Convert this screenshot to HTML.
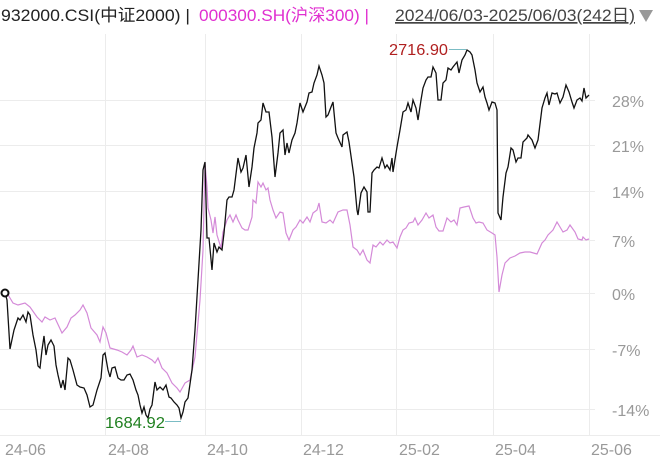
<!DOCTYPE html>
<html><head><meta charset="utf-8"><style>
body{margin:0;background:#fff;width:660px;height:459px;overflow:hidden;font-family:"Liberation Sans","Noto Sans CJK SC",sans-serif}
</style></head><body>
<svg width="660" height="459" xmlns="http://www.w3.org/2000/svg" font-family="Liberation Sans, Noto Sans CJK SC, sans-serif">
<g stroke="#ececec" stroke-width="1">
<line x1="0" y1="100.5" x2="595" y2="100.5"/>
<line x1="0" y1="145.5" x2="595" y2="145.5"/>
<line x1="0" y1="191.5" x2="595" y2="191.5"/>
<line x1="0" y1="240.5" x2="595" y2="240.5"/>
<line x1="0" y1="293.5" x2="595" y2="293.5"/>
<line x1="0" y1="349.5" x2="595" y2="349.5"/>
<line x1="0" y1="409.5" x2="595" y2="409.5"/>
<line x1="0" y1="435.5" x2="660" y2="435.5"/>
<line x1="105.5" y1="34" x2="105.5" y2="435"/>
<line x1="205.5" y1="34" x2="205.5" y2="435"/>
<line x1="301.5" y1="34" x2="301.5" y2="435"/>
<line x1="396.5" y1="34" x2="396.5" y2="435"/>
<line x1="493.5" y1="34" x2="493.5" y2="435"/>
<line x1="589.5" y1="34" x2="589.5" y2="435"/>
</g>
<text x="1" y="21" font-size="17" fill="#222" textLength="189" lengthAdjust="spacingAndGlyphs">932000.CSI(中证2000) |</text>
<text x="199" y="21" font-size="17" fill="#e030d0" textLength="170" lengthAdjust="spacingAndGlyphs">000300.SH(沪深300) |</text>
<text x="395" y="21" font-size="17" fill="#444" text-decoration="underline" textLength="240" lengthAdjust="spacingAndGlyphs">2024/06/03-2025/06/03(242日)</text>
<polygon points="639,10 653,10 646,22" fill="#999"/>
<g font-size="16" fill="#999">
<text x="612" y="107">28%</text><text x="612" y="152">21%</text><text x="612" y="198">14%</text>
<text x="612" y="247">7%</text><text x="612" y="300">0%</text><text x="612" y="356">-7%</text><text x="612" y="416">-14%</text>
<text x="5" y="455">24-06</text><text x="108" y="455">24-08</text><text x="207" y="455">24-10</text>
<text x="303" y="455">24-12</text><text x="399" y="455">25-02</text><text x="495" y="455">25-04</text><text x="591" y="455">25-06</text>
</g>
<polyline fill="none" stroke="#d48ad8" stroke-width="1.2" points="7,293 13,303 18,305 25,303 30,307 37,317 42,322 45,317 50,320 55,318 62,333 67,327 71,318 75,315 80,310 83,305 87,313 91,328 97,335 100,342 103,327 106,333 110,348 117,350 122,352 127,355 131,350 133,346 137,357 142,355 147,357 152,360 155,363 158,358 162,368 167,373 172,383 177,388 180,392 185,383 190,380 195,357 200,300 203,250 205,163 207,187 208,208 211,220 213,233 215,217 217,235 221,248 223,232 227,220 230,215 233,222 236,215 238,220 242,228 245,230 248,230 252,217 253,200 256,203 258,182 261,187 263,183 266,190 268,188 270,200 273,210 276,218 280,212 283,213 286,233 289,240 293,230 296,227 300,220 303,223 307,217 310,222 313,213 317,210 319,203 322,222 326,223 330,220 333,223 338,212 343,210 347,210 350,225 353,247 357,250 360,255 363,250 367,260 370,263 373,245 376,247 380,242 383,245 387,240 390,243 393,242 397,248 400,237 403,230 406,228 409,223 413,222 415,218 418,225 422,220 426,213 429,218 433,215 436,227 439,231 443,231 447,218 451,222 454,220 457,225 460,208 464,207 469,206 473,218 476,223 479,222 483,223 487,230 492,233 495,235 497,257 499,292 502,275 505,263 510,258 515,256 520,253 525,252 530,252 537,254 542,243 545,240 548,235 553,230 557,222 560,227 563,232 567,230 570,225 575,232 578,239 582,240 583,237 586,240 589,239"/>
<polyline fill="none" stroke="#111" stroke-width="1.3" points="5,293 7,300 10,349 14,330 18,318 20,320 23,315 26,322 28,312 30,315 33,335 36,350 38,366 40,368 42,350 44,336 46,355 48,345 51,340 54,346 56,365 58,375 61,388 63,380 65,390 68,358 70,360 73,370 77,385 80,387 84,388 87,395 90,407 93,405 97,390 101,378 103,355 105,353 108,370 110,377 112,368 115,367 118,378 121,380 124,380 127,375 130,374 133,380 136,390 138,395 140,405 142,413 144,407 146,415 148,418 150,409 152,405 155,382 157,390 160,387 163,390 166,385 169,397 171,398 174,402 177,405 179,408 181,418 183,412 185,402 188,398 192,370 195,330 198,280 201,230 203,170 205,162 207,238 209,238 212,270 214,243 217,252 219,247 222,250 224,233 227,200 229,197 232,197 234,190 238,158 241,172 243,168 246,155 249,187 252,167 254,148 257,133 258,123 261,120 263,103 266,112 269,112 272,137 275,177 278,153 280,133 283,130 285,155 287,143 289,153 292,140 295,133 297,123 300,103 303,112 307,102 309,93 312,92 314,83 317,75 319,66 322,75 324,83 326,117 328,115 331,107 333,102 336,133 338,138 342,147 343,135 347,132 349,142 352,163 354,177 357,210 358,215 361,193 364,187 367,192 368,212 370,212 372,173 374,170 377,167 379,168 382,158 385,168 387,165 390,170 392,158 393,172 397,147 400,130 403,112 406,110 408,103 411,112 413,100 416,108 418,120 421,100 423,88 426,80 428,77 431,77 433,67 436,73 438,100 441,100 443,83 446,80 448,68 451,70 453,67 457,62 459,73 462,60 465,55 467,50 470,52 472,55 475,70 477,83 480,92 483,87 485,97 487,103 489,110 492,102 495,103 497,110 498,213 501,220 503,197 506,173 508,167 511,148 513,150 516,162 518,158 521,158 523,142 527,138 528,135 532,140 535,148 538,140 542,108 545,98 547,93 549,105 552,93 555,94 557,93 560,103 563,97 566,85 569,92 572,102 574,108 577,100 580,98 582,101 584,88 586,98 589,95"/>
<circle cx="5" cy="293" r="3.5" fill="#fff" stroke="#111" stroke-width="2"/>
<text x="389" y="55" font-size="16" fill="#b02020" textLength="59" lengthAdjust="spacingAndGlyphs">2716.90</text>
<line x1="449" y1="49.5" x2="466" y2="49.5" stroke="#7bbcc4" stroke-width="1"/>
<text x="105" y="428" font-size="16" fill="#208020" textLength="60" lengthAdjust="spacingAndGlyphs">1684.92</text>
<line x1="165" y1="421.5" x2="181" y2="421.5" stroke="#7bbcc4" stroke-width="1"/>
</svg>
</body></html>
